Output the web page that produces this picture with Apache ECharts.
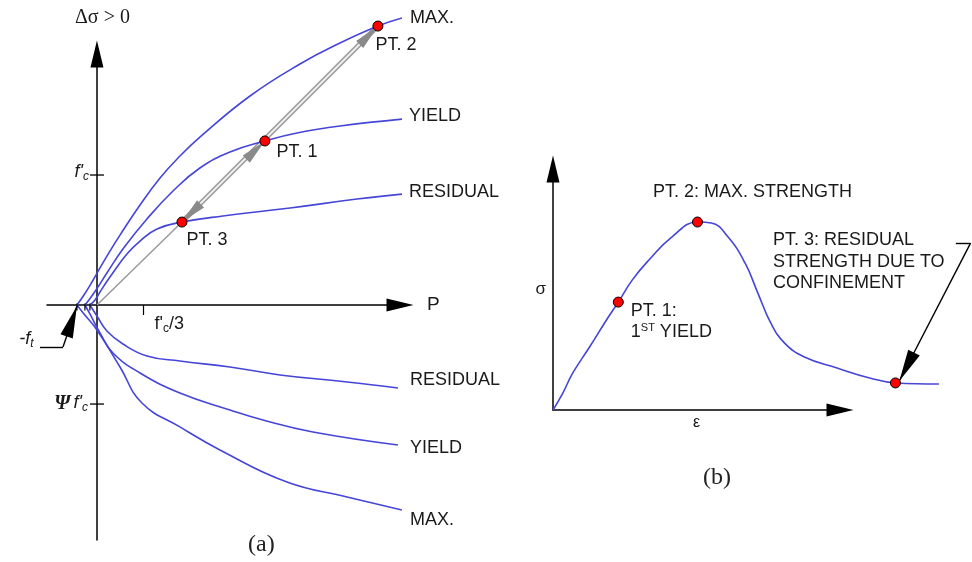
<!DOCTYPE html>
<html>
<head>
<meta charset="utf-8">
<script src="https://cdn.jsdelivr.net/npm/echarts@6/dist/echarts.min.js"></script>
<style>
  html, body { margin: 0; padding: 0; background: #fff; }
  #chart { width: 972px; height: 562px; }
</style>
</head>
<body>
<div id="chart"></div>
<script>
// ---------- Panel (a): failure envelopes, x = P / f'c, y = Δσ / f'c ----------
// each envelope starts at its tension cut-off (-f_t) on the P axis
const maxUpper = [[-0.145, 0], [-0.094, 0.077], [-0.036, 0.177], [0.022, 0.285], [0.094, 0.415], [0.167, 0.538], [0.312, 0.769], [0.457, 0.977], [0.601, 1.146], [0.746, 1.292], [1.109, 1.608], [1.471, 1.854], [1.761, 2.015], [2.036, 2.146], [2.210, 2.208]];
const maxLower = [[-0.145, 0], [-0.094, -0.069], [0, -0.192], [0.167, -0.477], [0.326, -0.754], [0.601, -0.938], [0.891, -1.115], [1.377, -1.362], [1.812, -1.477], [2.210, -1.577]];
const yieldUpper = [[-0.087, 0], [-0.058, 0.038], [-0.007, 0.115], [0.072, 0.246], [0.188, 0.431], [0.362, 0.662], [0.551, 0.877], [0.746, 1.054], [0.964, 1.177], [1.217, 1.262], [1.449, 1.323], [1.761, 1.377], [2.217, 1.431]];
const yieldLower = [[-0.087, 0], [-0.051, -0.069], [0.022, -0.215], [0.116, -0.369], [0.312, -0.523], [0.601, -0.677], [0.964, -0.808], [1.203, -0.885], [1.565, -0.977], [2.181, -1.077]];
const residualUpper = [[-0.051, 0], [-0.014, 0.038], [0.022, 0.100], [0.094, 0.215], [0.217, 0.392], [0.312, 0.492], [0.435, 0.585], [0.616, 0.638], [0.913, 0.685], [1.399, 0.746], [1.884, 0.815], [2.217, 0.854]];
const residualLower = [[-0.051, 0], [0, -0.085], [0.072, -0.200], [0.188, -0.300], [0.362, -0.392], [0.601, -0.431], [0.964, -0.477], [1.326, -0.538], [1.812, -0.592], [2.181, -0.638]];

// points on the loading path (yield, max, residual)
const pathPt1 = [1.217, 1.262];
const pathPt2 = [2.036, 2.146];
const pathPt3 = [0.616, 0.638];

// tension cut-offs and the f'c / Ψf'c / f'c/3 reference levels
const tensionCutoffs = [-0.145, -0.087, -0.051];
const fcLevel = 1;
const psiFcLevel = -0.762;
const fcThird = 1 / 3;
const ftLeader = [[-0.413, -0.323], [-0.246, -0.323], [-0.145, -0.008]];

// ---------- Panel (b): stress-strain, ε normalised by ε at peak, σ by peak ----------
const strain = [0, 0.068, 0.137, 0.253, 0.370, 0.452, 0.548, 0.664, 0.822, 1.000, 1.096, 1.212, 1.329, 1.418, 1.507, 1.603, 1.740, 1.966, 2.192, 2.370, 2.671];
const stress = [0, 0.090, 0.197, 0.335, 0.479, 0.574, 0.691, 0.798, 0.920, 1.000, 0.995, 0.920, 0.782, 0.622, 0.463, 0.356, 0.282, 0.223, 0.170, 0.144, 0.138];
const ssPt1 = [0.452, 0.574];
const ssPt2 = [1.0, 1.0];
const ssPt3 = [2.370, 0.144];
const ssLeader = [[2.788, 0.888], [2.890, 0.888], [2.397, 0.154]];

const SANS = '"Liberation Sans", Arial, sans-serif';
const SERIF = '"Liberation Serif", "Times New Roman", serif';
const INK = '#1a1a1a';
const BLUE = '#4545d8';
const GRAY = '#9a9a9a';
// arrowheads whose tip sits at the symbol centre: a zero-area lead stretches the box forward
const HEAD = 'path://M0,0L0.01,0L0,0ZM0,26L5,52L-5,52Z';
const BIG_HEAD = 'path://M0,0L0.01,0L0,0ZM0,32L6.5,64L-6.5,64Z';

const ssData = strain.map((e, i) => [e, stress[i]]);

const axisArrow = {
  symbol: ['none', 'triangle'],
  symbolSize: [13, 27],
  lineStyle: { color: '#000', width: 1.5 }
};
const hiddenAxis = {
  axisLine: { show: false }, axisTick: { show: false },
  axisLabel: { show: false }, splitLine: { show: false }
};
const subRich = {
  i: { fontFamily: SANS, fontStyle: 'italic', fontSize: 18, color: INK },
  u: { fontFamily: SANS, fontSize: 18, color: INK },
  p: { fontFamily: SERIF, fontStyle: 'italic', fontWeight: 'bold', fontSize: 20, color: INK },
  s: { fontFamily: SANS, fontStyle: 'italic', fontSize: 12, color: INK, padding: [9, 0, 0, 0] },
  su: { fontFamily: SANS, fontSize: 12, color: INK, padding: [9, 0, 0, 0] }
};

function envelope(name, data, label, offset) {
  return {
    type: 'line', name: name, xAxisIndex: 0, yAxisIndex: 0,
    data: data, showSymbol: false, smooth: 0.45, clip: false,
    lineStyle: { color: BLUE, width: 1.6 },
    endLabel: {
      show: true, formatter: label, distance: 0, offset: offset,
      color: INK, fontFamily: SANS, fontSize: 18
    },
    z: 3
  };
}

function textAt(xi, yi, point, label) {
  return {
    type: 'scatter', xAxisIndex: xi, yAxisIndex: yi, silent: true, clip: false, z: 5,
    symbolSize: 1, itemStyle: { color: 'rgba(0,0,0,0)', opacity: 1 },
    label: Object.assign({ show: true, rich: subRich }, label),
    data: [point]
  };
}

const chart = echarts.init(document.getElementById('chart'), null, { renderer: 'canvas' });

chart.setOption({
  animation: false,
  backgroundColor: '#fff',
  title: [
    { text: '(a)', left: 248, top: 533, padding: 0,
      textStyle: { fontFamily: SERIF, fontSize: 24, fontWeight: 'normal', color: '#222' } },
    { text: '(b)', left: 703, top: 466, padding: 0,
      textStyle: { fontFamily: SERIF, fontSize: 24, fontWeight: 'normal', color: '#222' } }
  ],
  grid: [
    { left: 47, top: 54, width: 353, height: 486 },        // (a)
    { left: 553, top: 169, width: 287, height: 241 },      // (b) axes
    { left: 553, top: 169, width: 423.4, height: 241 }     // (b) data, same scale, wider reach
  ],
  xAxis: [
    {
      gridIndex: 0, type: 'value', min: -0.362, max: 2.196,
      name: 'P', nameLocation: 'end', nameGap: 27,
      nameTextStyle: { fontFamily: SANS, fontSize: 19, color: INK, verticalAlign: 'middle' },
      axisLine: Object.assign({ onZero: true }, axisArrow),
      splitLine: { show: false },
      axisTick: { show: true, customValues: [fcThird], length: 10, lineStyle: { color: '#000', width: 1.2 } },
      axisLabel: { show: false }
    },
    {
      gridIndex: 1, type: 'value', min: 0, max: 1.966,
      name: 'ε', nameLocation: 'middle', nameGap: 5,
      nameTextStyle: { fontFamily: SANS, fontSize: 16, color: INK },
      axisLine: axisArrow,
      splitLine: { show: false }, axisTick: { show: false }, axisLabel: { show: false }
    },
    Object.assign({ gridIndex: 2, type: 'value', min: 0, max: 2.9 }, hiddenAxis)
  ],
  yAxis: [
    {
      gridIndex: 0, type: 'value', min: -1.808, max: 1.931,
      name: 'Δσ > 0', nameLocation: 'end', nameGap: 26,
      nameTextStyle: { fontFamily: SERIF, fontSize: 20, color: INK, padding: [0, 0, 0, 11] },
      axisLine: Object.assign({ onZero: true }, axisArrow),
      splitLine: { show: false }, axisTick: { show: false }, axisLabel: { show: false }
    },
    {
      gridIndex: 1, type: 'value', min: 0, max: 1.282,
      name: 'σ', nameLocation: 'middle', nameRotate: 0, nameGap: 7,
      nameTextStyle: { fontFamily: SANS, fontSize: 17, color: INK },
      axisLine: axisArrow,
      splitLine: { show: false }, axisTick: { show: false }, axisLabel: { show: false }
    },
    Object.assign({ gridIndex: 2, type: 'value', min: 0, max: 1.282 }, hiddenAxis)
  ],
  series: [
    envelope('max-upper', maxUpper, 'MAX.', [8, 0]),
    envelope('yield-upper', yieldUpper, 'YIELD', [7, -3]),
    envelope('residual-upper', residualUpper, 'RESIDUAL', [7, -2]),
    envelope('residual-lower', residualLower, 'RESIDUAL', [12, -8]),
    envelope('yield-lower', yieldLower, 'YIELD', [12, 3]),
    envelope('max-lower', maxLower, 'MAX.', [8, 10]),

    // radial loading path from the origin to PT. 3
    {
      type: 'lines', coordinateSystem: 'cartesian2d', xAxisIndex: 0, yAxisIndex: 0,
      clip: false, silent: true, z: 2,
      lineStyle: { color: '#9a9a9a', width: 1.5, opacity: 1 },
      data: [{ coords: [[0, 0], pathPt3] }]
    },
    // hollow shaft PT. 3 -> PT. 2
    {
      type: 'lines', coordinateSystem: 'cartesian2d', xAxisIndex: 0, yAxisIndex: 0,
      clip: false, silent: true, z: 2,
      lineStyle: { color: GRAY, width: 5, opacity: 1 },
      data: [{ coords: [pathPt3, pathPt2] }]
    },
    {
      type: 'lines', coordinateSystem: 'cartesian2d', xAxisIndex: 0, yAxisIndex: 0,
      clip: false, silent: true, z: 2,
      lineStyle: { color: '#eeeeee', width: 2, opacity: 1 },
      data: [{ coords: [pathPt3, pathPt2] }]
    },
    // arrowheads on the loading path
    {
      type: 'lines', coordinateSystem: 'cartesian2d', xAxisIndex: 0, yAxisIndex: 0,
      clip: false, silent: true, z: 2,
      symbol: ['none', HEAD], symbolSize: [[10, 52], [10, 52]],
      lineStyle: { color: '#8a8a8a', width: 0, opacity: 1 },
      data: [
        { coords: [pathPt1, pathPt3] },
        { coords: [pathPt3, pathPt1] },
        { coords: [pathPt1, pathPt2] }
      ]
    },
    // -f_t leader
    {
      type: 'lines', coordinateSystem: 'cartesian2d', xAxisIndex: 0, yAxisIndex: 0,
      clip: false, silent: true, z: 4,
      lineStyle: { color: '#000', width: 1.4, opacity: 1 },
      data: [{ coords: [ftLeader[0], ftLeader[1]] }]
    },
    {
      type: 'lines', coordinateSystem: 'cartesian2d', xAxisIndex: 0, yAxisIndex: 0,
      clip: false, silent: true, z: 4,
      symbol: ['none', BIG_HEAD], symbolSize: [[13, 64], [13, 64]],
      lineStyle: { color: '#000', width: 1.4, opacity: 1 },
      data: [{ coords: [ftLeader[1], ftLeader[2]] }]
    },
    textAt(0, 0, ftLeader[0], { position: [-6, -7], align: 'right', verticalAlign: 'middle', formatter: '{i|-f}{s|t}' }),
    textAt(0, 0, [fcThird, 0], { position: [12, 20], align: 'left', verticalAlign: 'middle', formatter: "{u|f'}{su|c}{u|/3}" }),
    // reference ticks crossing the Δσ axis, with their labels
    {
      type: 'scatter', xAxisIndex: 0, yAxisIndex: 0, silent: true, clip: false, z: 4,
      symbol: 'rect', symbolSize: [14, 1.3],
      itemStyle: { color: '#000', opacity: 1 },
      label: { show: true, align: 'right', verticalAlign: 'middle', rich: subRich },
      data: [
        { value: [0, fcLevel], label: { formatter: "{i|f'}{s|c}", position: [-1, -2] } },
        { value: [0, psiFcLevel], label: { formatter: "{p|Ψ} {i|f'}{s|c}", position: [-2, 0] } }
      ]
    },
    // tension cut-off marks on the P axis
    {
      type: 'scatter', xAxisIndex: 0, yAxisIndex: 0, silent: true, clip: false, z: 4,
      symbol: 'rect', symbolSize: [1.2, 7], symbolOffset: [0, 2],
      itemStyle: { color: '#000', opacity: 1 },
      data: tensionCutoffs.map(v => [v, 0])
    },
    // PT. 1 / 2 / 3 markers on the loading path
    {
      type: 'scatter', xAxisIndex: 0, yAxisIndex: 0, silent: true, clip: false, z: 6,
      symbol: 'circle', symbolSize: 10,
      itemStyle: { color: '#ff0000', borderColor: '#000', borderWidth: 1, opacity: 1 },
      label: { show: true, align: 'left', verticalAlign: 'middle', color: INK, fontFamily: SANS, fontSize: 18 },
      data: [
        { value: pathPt2, label: { formatter: 'PT. 2', position: [3, 24] } },
        { value: pathPt1, label: { formatter: 'PT. 1', position: [17, 17] } },
        { value: pathPt3, label: { formatter: 'PT. 3', position: [10, 23] } }
      ]
    },

    // ---------- panel (b) ----------
    {
      type: 'line', xAxisIndex: 2, yAxisIndex: 2,
      data: ssData, showSymbol: false, smooth: 0.45, clip: false,
      lineStyle: { color: BLUE, width: 1.6 }, z: 3
    },
    {
      type: 'lines', coordinateSystem: 'cartesian2d', xAxisIndex: 2, yAxisIndex: 2,
      clip: false, silent: true, z: 4,
      lineStyle: { color: '#000', width: 1.4, opacity: 1 },
      data: [{ coords: [ssLeader[0], ssLeader[1]] }]
    },
    {
      type: 'lines', coordinateSystem: 'cartesian2d', xAxisIndex: 2, yAxisIndex: 2,
      clip: false, silent: true, z: 4,
      symbol: ['none', BIG_HEAD], symbolSize: [[13, 64], [13, 64]],
      lineStyle: { color: '#000', width: 1.4, opacity: 1 },
      data: [{ coords: [ssLeader[1], ssLeader[2]] }]
    },
    {
      type: 'scatter', xAxisIndex: 2, yAxisIndex: 2, silent: true, clip: false, z: 6,
      symbol: 'circle', symbolSize: 10,
      itemStyle: { color: '#ff0000', borderColor: '#000', borderWidth: 1, opacity: 1 },
      label: {
        show: true, align: 'left', verticalAlign: 'top', color: INK,
        fontFamily: SANS, fontSize: 18, lineHeight: 21,
        rich: { sup: { fontFamily: SANS, fontSize: 11, color: INK, padding: [0, 0, 8, 0] } }
      },
      data: [
        { value: ssPt1, label: { formatter: 'PT. 1:\n1{sup|ST} YIELD', position: [18, 4] } },
        { value: ssPt2, label: { formatter: 'PT. 2: MAX. STRENGTH', position: [-39, -35] } },
        { value: ssPt3, label: { formatter: 'PT. 3: RESIDUAL\nSTRENGTH DUE TO\nCONFINEMENT', position: [-117, -148], lineHeight: 21.5 } }
      ]
    }
  ]
});
</script>
</body>
</html>
